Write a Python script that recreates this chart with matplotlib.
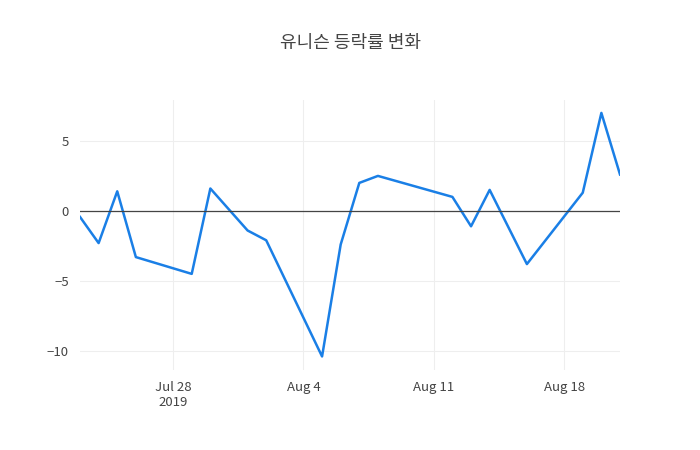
import pandas as pd
import matplotlib.pyplot as plt
import matplotlib.dates as mdates

plt.rcParams['font.family'] = ['Noto Sans CJK KR', 'DejaVu Sans']

dates = ["2019-07-23", "2019-07-24", "2019-07-25", "2019-07-26", "2019-07-29",
         "2019-07-30", "2019-08-01", "2019-08-02", "2019-08-05", "2019-08-06",
         "2019-08-07", "2019-08-08", "2019-08-12", "2019-08-13", "2019-08-14",
         "2019-08-16", "2019-08-19", "2019-08-20", "2019-08-21"]
values = [-0.43, -2.3, 1.4, -3.3, -4.5, 1.6, -1.4, -2.1, -10.4, -2.4,
          2.0, 2.5, 1.0, -1.1, 1.5, -3.8, 1.3, 7.0, 2.6]
dates = pd.to_datetime(dates)

fig = plt.figure(figsize=(7, 4.5), dpi=100)
ax = fig.add_axes([80/700, 0.178, 540/700, 0.6])
ax.plot(dates, values, color='#1a7fe6', lw=1.8)
ax.axhline(0, color='#444444', lw=0.9)

ax.set_xlim(dates[0], dates[-1])
ax.set_ylim(-11.36, 7.93)
ax.set_yticks([-10, -5, 0, 5])
ax.set_yticklabels(['−10', '−5', '0', '5'])
ticks = pd.to_datetime(["2019-07-28", "2019-08-04", "2019-08-11", "2019-08-18"])
ax.set_xticks(ticks)
ax.set_xticklabels(["Jul 28\n2019", "Aug 4", "Aug 11", "Aug 18"])
ax.grid(color='#eeeeee', lw=0.8)
ax.tick_params(length=0, labelsize=9.5, colors='#444444', pad=8)
for s in ax.spines.values():
    s.set_visible(False)

fig.suptitle('유니슨 등락률 변화', y=0.925, fontsize=13, color='#444444')
fig.savefig('out.png')
